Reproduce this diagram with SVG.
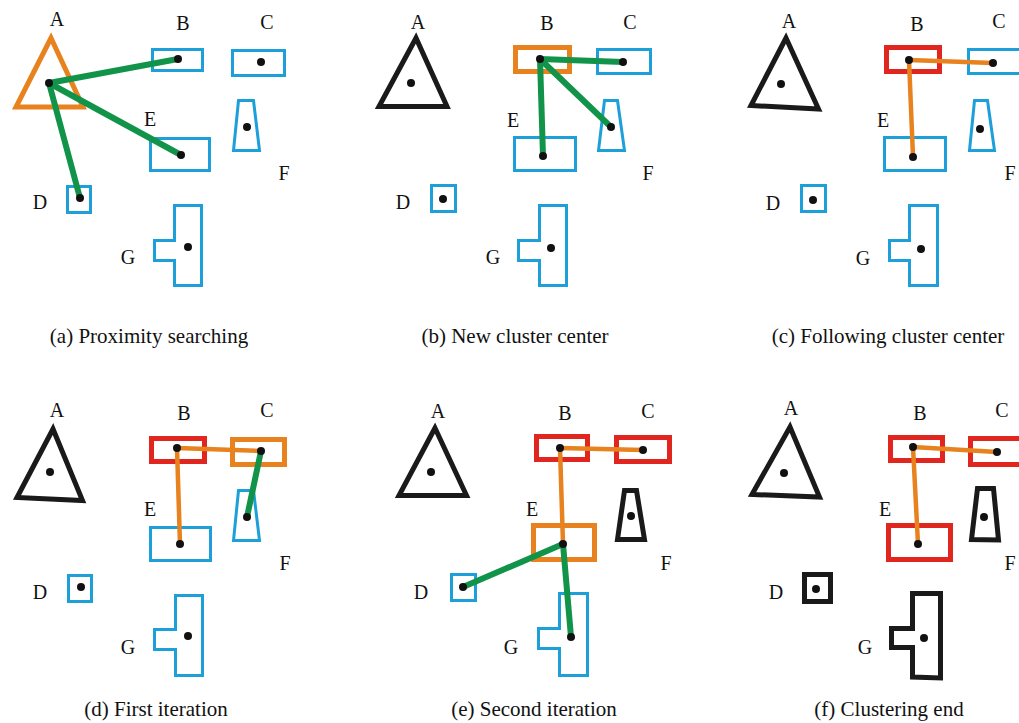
<svg xmlns="http://www.w3.org/2000/svg" width="1019" height="723" viewBox="0 0 1019 723">
  <style>
    .bg { fill: #ffffff; }
    .shape { fill: none; stroke-linejoin: miter; }
    .blue { stroke: #1d9fd9; stroke-width: 3; }
    .black { stroke: #1a1a1a; stroke-width: 5; }
    .orange { stroke: #e8821e; stroke-width: 5; }
    .red { stroke: #e0261f; stroke-width: 5; }
    .link { stroke-linecap: round; fill: none; }
    .search { stroke: #11944a; stroke-width: 6; }
    .member { stroke: #e8821e; stroke-width: 4.5; }
    .dot { fill: #111111; }
    .lbl { font-family: "Liberation Serif", "Times New Roman", serif; font-size: 20px; fill: #111111; text-anchor: middle; }
    .cap { font-family: "Liberation Serif", "Times New Roman", serif; font-size: 21px; fill: #111111; text-anchor: middle; }
  </style>
  <rect class="bg" x="0" y="0" width="1019" height="723"/>

  <!-- (a) Proximity searching -->
  <g id="panel-a">
    <g id="a-A"><polygon class="shape orange" points="51,38 16,107 83,107"/><text class="lbl" x="57" y="26">A</text></g>
    <g id="a-B"><rect class="shape blue" x="152.5" y="49.5" width="50" height="21"/><text class="lbl" x="183" y="30">B</text></g>
    <g id="a-C"><rect class="shape blue" x="232.5" y="50.5" width="52" height="25"/><text class="lbl" x="267" y="29">C</text></g>
    <g id="a-F"><polygon class="shape blue" points="238.5,100.5 253.5,100.5 259.5,150.5 233.5,150.5"/><text class="lbl" x="284" y="180">F</text></g>
    <g id="a-E"><rect class="shape blue" x="150.5" y="138.5" width="59" height="32"/><text class="lbl" x="150" y="126">E</text></g>
    <g id="a-D"><rect class="shape blue" x="67.5" y="186.5" width="23" height="26"/><text class="lbl" x="40" y="209">D</text></g>
    <g id="a-G"><path class="shape blue" d="M174.5 205.5 H201.5 V285.5 H174.5 V260.5 H154.5 V240.5 H174.5 Z"/><text class="lbl" x="128" y="264">G</text></g>
    <g id="a-links">
      <line class="link search" x1="49" y1="83" x2="178" y2="59"/>
      <line class="link search" x1="49" y1="83" x2="181" y2="155"/>
      <line class="link search" x1="49" y1="83" x2="80" y2="198"/>
    </g>
    <g id="a-dots">
      <circle class="dot" cx="49" cy="83" r="4"/><circle class="dot" cx="178" cy="59" r="4"/>
      <circle class="dot" cx="261" cy="62" r="4"/><circle class="dot" cx="247" cy="127" r="4"/>
      <circle class="dot" cx="181" cy="155" r="4"/><circle class="dot" cx="80" cy="198" r="4"/>
      <circle class="dot" cx="188" cy="247" r="4"/>
    </g>
    <text class="cap" x="149" y="343">(a) Proximity searching</text>
  </g>

  <!-- (b) New cluster center -->
  <g id="panel-b">
    <g id="b-A"><polygon class="shape black" points="416,38 379,106.5 447,106.5"/><text class="lbl" x="418" y="29">A</text></g>
    <g id="b-B"><rect class="shape orange" x="515.5" y="47.5" width="54" height="24"/><text class="lbl" x="547" y="30">B</text></g>
    <g id="b-C"><rect class="shape blue" x="597.5" y="49.5" width="53" height="24"/><text class="lbl" x="630" y="29">C</text></g>
    <g id="b-F"><polygon class="shape blue" points="604.5,100.5 617.5,100.5 624.5,150.5 598.5,150.5"/><text class="lbl" x="648" y="180">F</text></g>
    <g id="b-E"><rect class="shape blue" x="514.5" y="137.5" width="61" height="33"/><text class="lbl" x="513" y="127">E</text></g>
    <g id="b-D"><rect class="shape blue" x="431.5" y="185.5" width="24" height="26"/><text class="lbl" x="403" y="209">D</text></g>
    <g id="b-G"><path class="shape blue" d="M539.5 205.5 H566.5 V285.5 H539.5 V260.5 H518.5 V240.5 H539.5 Z"/><text class="lbl" x="493" y="264">G</text></g>
    <g id="b-links">
      <line class="link search" x1="540" y1="59" x2="623" y2="62"/>
      <line class="link search" x1="540" y1="59" x2="611" y2="127"/>
      <line class="link search" x1="540" y1="59" x2="543" y2="156"/>
    </g>
    <g id="b-dots">
      <circle class="dot" cx="411" cy="83" r="4"/><circle class="dot" cx="540" cy="59" r="4"/>
      <circle class="dot" cx="623" cy="62" r="4"/><circle class="dot" cx="611" cy="127" r="4"/>
      <circle class="dot" cx="543" cy="156" r="4"/><circle class="dot" cx="443" cy="199" r="4"/>
      <circle class="dot" cx="551" cy="248" r="4"/>
    </g>
    <text class="cap" x="515" y="343">(b) New cluster center</text>
  </g>

  <!-- (c) Following cluster center -->
  <g id="panel-c">
    <g id="c-A"><polygon class="shape black" points="786,38 751,105.5 818.5,109"/><text class="lbl" x="789" y="28">A</text></g>
    <g id="c-B"><rect class="shape red" x="886.5" y="47.5" width="53" height="24"/><text class="lbl" x="917" y="31">B</text></g>
    <g id="c-C"><rect class="shape blue" x="968.5" y="49.5" width="53" height="24"/><text class="lbl" x="999" y="28">C</text></g>
    <g id="c-F"><polygon class="shape blue" points="974.5,100.5 987.5,100.5 994.5,150.5 969.5,150.5"/><text class="lbl" x="1010" y="180">F</text></g>
    <g id="c-E"><rect class="shape blue" x="884.5" y="137.5" width="61" height="33"/><text class="lbl" x="883" y="127">E</text></g>
    <g id="c-D"><rect class="shape blue" x="801.5" y="185.5" width="24" height="26"/><text class="lbl" x="773" y="210">D</text></g>
    <g id="c-G"><path class="shape blue" d="M909.5 205.5 H937.5 V285.5 H909.5 V260.5 H889.5 V240.5 H909.5 Z"/><text class="lbl" x="863" y="265">G</text></g>
    <g id="c-links">
      <line class="link member" x1="909" y1="60" x2="993" y2="63"/>
      <line class="link member" x1="909" y1="60" x2="913" y2="157"/>
    </g>
    <g id="c-dots">
      <circle class="dot" cx="781" cy="84" r="4"/><circle class="dot" cx="909" cy="60" r="4"/>
      <circle class="dot" cx="993" cy="63" r="4"/><circle class="dot" cx="980" cy="129" r="4"/>
      <circle class="dot" cx="913" cy="157" r="4"/><circle class="dot" cx="813" cy="200" r="4"/>
      <circle class="dot" cx="921" cy="249" r="4"/>
    </g>
    <text class="cap" x="888" y="343">(c) Following cluster center</text>
  </g>

  <!-- (d) First iteration -->
  <g id="panel-d">
    <g id="d-A"><polygon class="shape black" points="53,429 17,497.5 82.5,500.5"/><text class="lbl" x="57" y="417">A</text></g>
    <g id="d-B"><rect class="shape red" x="151.5" y="438.5" width="53" height="23"/><text class="lbl" x="184" y="420">B</text></g>
    <g id="d-C"><rect class="shape orange" x="232.5" y="439.5" width="52" height="25"/><text class="lbl" x="267" y="417">C</text></g>
    <g id="d-F"><polygon class="shape blue" points="238.5,490.5 253.5,490.5 259.5,540.5 233.5,540.5"/><text class="lbl" x="285" y="570">F</text></g>
    <g id="d-E"><rect class="shape blue" x="150.5" y="527.5" width="60" height="33"/><text class="lbl" x="150" y="516">E</text></g>
    <g id="d-D"><rect class="shape blue" x="68.5" y="575.5" width="23" height="26"/><text class="lbl" x="40" y="599">D</text></g>
    <g id="d-G"><path class="shape blue" d="M175.5 595.5 H202.5 V675.5 H175.5 V649.5 H154.5 V629.5 H175.5 Z"/><text class="lbl" x="128" y="654">G</text></g>
    <g id="d-links">
      <line class="link member" x1="177" y1="448" x2="261" y2="451"/>
      <line class="link member" x1="177" y1="448" x2="180" y2="544"/>
      <line class="link search" x1="261" y1="451" x2="247" y2="517"/>
    </g>
    <g id="d-dots">
      <circle class="dot" cx="50" cy="472" r="4"/><circle class="dot" cx="177" cy="448" r="4"/>
      <circle class="dot" cx="261" cy="451" r="4"/><circle class="dot" cx="247" cy="517" r="4"/>
      <circle class="dot" cx="180" cy="544" r="4"/><circle class="dot" cx="81" cy="587" r="4"/>
      <circle class="dot" cx="188" cy="636" r="4"/>
    </g>
    <text class="cap" x="156" y="716">(d) First iteration</text>
  </g>

  <!-- (e) Second iteration -->
  <g id="panel-e">
    <g id="e-A"><polygon class="shape black" points="435,428 399,495.5 466.5,495.5"/><text class="lbl" x="438" y="418">A</text></g>
    <g id="e-B"><rect class="shape red" x="536.5" y="436.5" width="51" height="23"/><text class="lbl" x="565" y="420">B</text></g>
    <g id="e-C"><rect class="shape red" x="616.5" y="437.5" width="53" height="24"/><text class="lbl" x="648" y="418">C</text></g>
    <g id="e-F"><polygon class="shape black" points="624.5,490.5 636.5,490.5 644.5,539.5 617.5,539.5"/><text class="lbl" x="666" y="570">F</text></g>
    <g id="e-E"><rect class="shape orange" x="533.5" y="525.5" width="61" height="34"/><text class="lbl" x="532" y="516">E</text></g>
    <g id="e-D"><rect class="shape blue" x="451.5" y="574.5" width="24" height="26"/><text class="lbl" x="421" y="599">D</text></g>
    <g id="e-G"><path class="shape blue" d="M559.5 593.5 H587.5 V675.5 H559.5 V648.5 H538.5 V628.5 H559.5 Z"/><text class="lbl" x="511" y="654">G</text></g>
    <g id="e-links">
      <line class="link member" x1="560" y1="448" x2="643" y2="450"/>
      <line class="link member" x1="560" y1="448" x2="563" y2="544"/>
      <line class="link search" x1="563" y1="544" x2="463" y2="587"/>
      <line class="link search" x1="563" y1="544" x2="571" y2="637"/>
    </g>
    <g id="e-dots">
      <circle class="dot" cx="431" cy="472" r="4"/><circle class="dot" cx="560" cy="448" r="4"/>
      <circle class="dot" cx="643" cy="450" r="4"/><circle class="dot" cx="631" cy="516" r="4"/>
      <circle class="dot" cx="563" cy="544" r="4"/><circle class="dot" cx="463" cy="587" r="4"/>
      <circle class="dot" cx="571" cy="637" r="4"/>
    </g>
    <text class="cap" x="534" y="716">(e) Second iteration</text>
  </g>

  <!-- (f) Clustering end -->
  <g id="panel-f">
    <g id="f-A"><polygon class="shape black" points="790,427 752,494.5 819.5,497"/><text class="lbl" x="791" y="415">A</text></g>
    <g id="f-B"><rect class="shape red" x="890.5" y="437.5" width="52" height="23"/><text class="lbl" x="920" y="420">B</text></g>
    <g id="f-C"><rect class="shape red" x="970.5" y="438.5" width="53" height="26"/><text class="lbl" x="1002" y="417">C</text></g>
    <g id="f-F"><polygon class="shape black" points="977.5,488.5 993.5,488.5 998.5,540 971.5,539.5"/><text class="lbl" x="1010" y="570">F</text></g>
    <g id="f-E"><rect class="shape red" x="888.5" y="525.5" width="62" height="34"/><text class="lbl" x="885" y="516">E</text></g>
    <g id="f-D"><rect class="shape black" x="804.5" y="574.5" width="26" height="27"/><text class="lbl" x="776" y="599">D</text></g>
    <g id="f-G"><path class="shape black" d="M912.5 593.5 H940.5 V678 L912.5 677 V647.5 H891.5 V628.5 H912.5 Z"/><text class="lbl" x="865" y="654">G</text></g>
    <g id="f-links">
      <line class="link member" x1="913" y1="447" x2="997" y2="452"/>
      <line class="link member" x1="913" y1="447" x2="918" y2="544"/>
    </g>
    <g id="f-dots">
      <circle class="dot" cx="784" cy="473" r="4"/><circle class="dot" cx="913" cy="447" r="4"/>
      <circle class="dot" cx="997" cy="452" r="4"/><circle class="dot" cx="984" cy="517" r="4"/>
      <circle class="dot" cx="918" cy="544" r="4"/><circle class="dot" cx="816" cy="589" r="4"/>
      <circle class="dot" cx="924" cy="638" r="4"/>
    </g>
    <text class="cap" x="889" y="716">(f) Clustering end</text>
  </g>
</svg>
